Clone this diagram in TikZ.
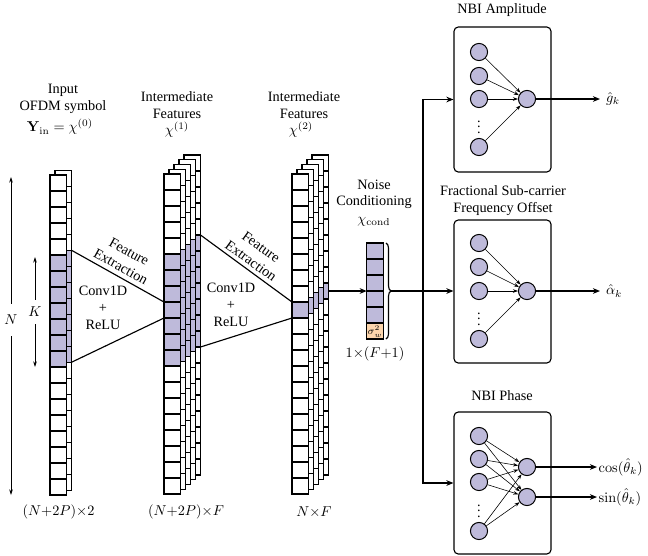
\documentclass[tikz,border=0pt]{standalone}
\usepackage[no-math]{fontspec}
\setmainfont{Liberation Serif}
\usepackage{amsmath}
\usetikzlibrary{arrows.meta,decorations.pathreplacing}
\definecolor{cellpurple}{RGB}{190,186,218}
\definecolor{cellorange}{RGB}{252,213,172}
\tikzset{
 cell/.style={draw, line width=0.9pt, minimum width=11.55pt, minimum height=11.2pt, inner sep=0pt, outer sep=0pt},
 neuron/.style={circle, draw, line width=0.7pt, fill=cellpurple, minimum size=12pt, inner sep=0pt},
 nnbox/.style={draw, line width=0.8pt, rounded corners=3pt, minimum width=67.9pt, inner sep=0pt},
 arr/.style={line width=0.8pt, -{Stealth[length=5pt,width=4pt]}},
 thinarr/.style={line width=0.4pt, -{Stealth[length=3.5pt,width=2.5pt]}},
 dimarr/.style={line width=0.5pt, {Stealth[length=4pt,width=2.5pt]}-{Stealth[length=4pt,width=2.5pt]}},
 conn/.style={line width=0.8pt},
 lbl/.style={inner sep=0pt, align=center},
}
% #1 name, #2 last layer index, #3 x centre of front layer, #4 y top of front layer,
% #5 last cell index, #6 first purple cell, #7 last purple cell
\newcommand{\cellstack}[7]{%
 \foreach \l in {#2,...,0}{%
  \foreach \i in {0,...,#5}{%
   \ifnum\i<#6\relax\def\fc{white}\else\ifnum\i>#7\relax\def\fc{white}\else\def\fc{cellpurple}\fi\fi
   \node[cell,fill=\fc] (#1-\l-\i) at ({#3+5*\l},{#4-4.75*\l+16*\i+8}) {};
  }}}
\begin{document}
\begin{tikzpicture}[x=0.7pt,y=-0.7pt]
\useasboundingbox (0,0) rectangle (648,555);

% columns
\cellstack{A}{1}{58.25}{175}{19}{5}{11}
\cellstack{B}{4}{172.25}{174}{19}{5}{11}
\cellstack{C}{4}{300.25}{174}{19}{8}{8}
\cellstack{D}{0}{375}{243}{4}{0}{4}
\node[cell,fill=cellorange] (D-0-5) at (375,331) {};
\node[inner sep=0pt] (sig) at (375,331.5) {\scriptsize$\sigma_w^2$};

% dimension arrows
\coordinate (Ntop) at (11,177);
\coordinate (Nbot) at (11,495);
\draw[dimarr] (Ntop) -- (Nbot) node[pos=0.45, fill=white, inner xsep=2pt, inner ysep=8pt] (Nlbl) {$N$};
\coordinate (Ktop) at (35,257);
\coordinate (Kbot) at (35,367);
\draw[dimarr] (Ktop) -- (Kbot) node[pos=0.5, fill=white, inner xsep=2pt, inner ysep=5pt] (Klbl) {$K$};

% feature extraction lines
\draw[conn] (A-1-5.north east) -- (B-0-8.north west);
\draw[conn] (A-1-11.south east) -- (B-0-8.south west);
\draw[conn] (B-4-5.north east) -- (C-0-8.north west);
\draw[conn] (B-4-11.south east) -- (C-0-8.south west);

% labels above columns
\node[lbl] (t1a) at (63,90) {Input};
\node[lbl] (t1b) at (63,107) {OFDM symbol};
\node[lbl] (t1c) at (60,127) {$\mathbf{Y}_{\mathrm{in}}=\chi^{(0)}$};
\node[lbl] (t2a) at (177,97) {Intermediate};
\node[lbl] (t2b) at (177,114) {Features};
\node[lbl] (t2c) at (177,130) {$\chi^{(1)}$};
\node[lbl] (t3a) at (304,97) {Intermediate};
\node[lbl] (t3b) at (304,114) {Features};
\node[lbl] (t3c) at (301,130) {$\chi^{(2)}$};
\node[lbl] (t4a) at (374,185) {Noise};
\node[lbl] (t4b) at (374,202) {Conditioning};
\node[lbl] (t4c) at (374,222) {$\chi_{\mathrm{cond}}$};

% labels below columns
\node[lbl] (b1) at (58.5,512) {$(N{+}2P){\times}2$};
\node[lbl] (b2) at (186,512) {$(N{+}2P){\times}F$};
\node[lbl] (b3) at (314,512) {$N{\times}F$};
\node[lbl] (b4) at (375,354) {$1{\times}(F{+}1)$};

% conv labels
\node[lbl] (cv1) at (103,308) {Conv1D\\+\\ReLU};
\node[lbl] (cv2) at (231,305) {Conv1D\\+\\ReLU};
\node[lbl, rotate=-29] (fe1) at (125,259) {Feature\\Extraction};
\node[lbl, rotate=-36] (fe2) at (256,254) {Feature\\Extraction};

% noise arrow and brace
\draw[arr] (C-4-8.east) -- (C-4-8.east -| D-0-0.west);
\coordinate (brt) at (386,243);
\coordinate (brb) at (386,339);
\draw[decorate, decoration={brace, amplitude=3.5pt}, line width=0.8pt] (brt) -- (brb);
\coordinate (brtip) at (391,291);
\coordinate (J) at (423,291);

% boxes
\node[lbl] (h1) at (502,10) {NBI Amplitude};
\node[lbl] (h2) at (503,201) {Fractional Sub-carrier\\Frequency Offset};
\node[lbl] (h3) at (502,396) {NBI Phase};
\node[nnbox, minimum height=101.5pt] (box1) at (502.5,99.5) {};
\node[nnbox, minimum height=100.1pt] (box2) at (502.5,291.5) {};
\node[nnbox, minimum height=99.4pt] (box3) at (502.5,483) {};

\draw[conn] (brtip) -- (J);
\draw[arr] (J) -- (J -| box2.west);
\draw[arr] (J) |- (box1.west);
\draw[arr] (J) |- (box3.west);

% box 1 network
\node[neuron] (a1) at (479,52) {};
\node[neuron] (a2) at (479,76) {};
\node[neuron] (a3) at (479,99) {};
\node[neuron] (a4) at (479,147) {};
\node[inner sep=0pt] (ad) at (479,123) {$\vdots$};
\node[neuron] (ao) at (527,99) {};
\foreach \n in {a1,a2,a3,a4} \draw[thinarr] (\n) -- (ao);
\node[anchor=west, inner xsep=4pt] (og) at (600,99) {$\hat{g}_k$};
\draw[arr] (ao) -- (og.west);

% box 2 network
\node[neuron] (f1) at (479,243) {};
\node[neuron] (f2) at (479,267) {};
\node[neuron] (f3) at (479,291) {};
\node[neuron] (f4) at (479,339) {};
\node[inner sep=0pt] (fd) at (479,315) {$\vdots$};
\node[neuron] (fo) at (527,291) {};
\foreach \n in {f1,f2,f3,f4} \draw[thinarr] (\n) -- (fo);
\node[anchor=west, inner xsep=4pt] (oa) at (600,291) {$\hat{\alpha}_k$};
\draw[arr] (fo) -- (oa.west);

% box 3 network
\node[neuron] (p1) at (479,436) {};
\node[neuron] (p2) at (479,459) {};
\node[neuron] (p3) at (479,482) {};
\node[neuron] (p4) at (479,531) {};
\node[inner sep=0pt] (pd) at (479,507) {$\vdots$};
\node[neuron] (po1) at (527,467) {};
\node[neuron] (po2) at (527,497) {};
\foreach \n in {p1,p2,p3,p4} {\draw[thinarr] (\n) -- (po1); \draw[thinarr] (\n) -- (po2);}
\node[anchor=west, inner xsep=1pt] (oc) at (597,467) {$\cos(\hat{\theta}_k)$};
\node[anchor=west, inner xsep=1pt] (os) at (597,497) {$\sin(\hat{\theta}_k)$};
\draw[arr] (po1) -- (oc.west);
\draw[arr] (po2) -- (os.west);
\end{tikzpicture}
\end{document}
